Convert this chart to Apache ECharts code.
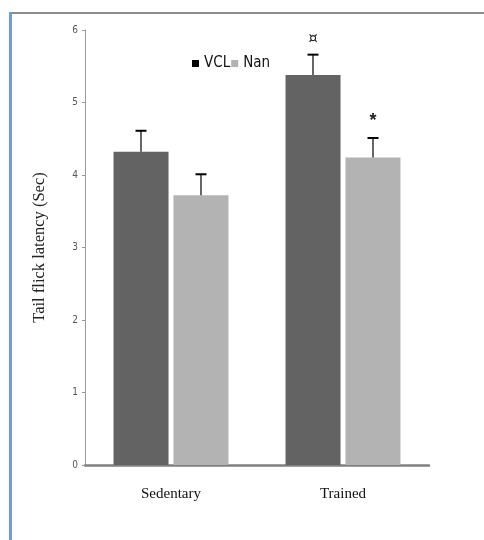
<!DOCTYPE html>
<html><head><meta charset="utf-8">
<script src="https://cdn.jsdelivr.net/npm/echarts@6/dist/echarts.min.js"></script>
<style>html,body{margin:0;padding:0;background:#fff}#c{width:484px;height:540px}</style>
</head><body><div id="c"></div>
<script>
const categories = ['Sedentary', 'Trained'];
const vclValues = [4.32, 5.38];
const vclErrors = [0.29, 0.28];
const nanValues = [3.72, 4.24];
const nanErrors = [0.29, 0.27];
const vclMarks = ['', '¤'];
const nanMarks = ['', '*'];
const yTicks = [0, 1, 2, 3, 4, 5, 6];

const chart = echarts.init(document.getElementById('c'));

function errSeries(name, values, errors, marks, idx) {
  return {
    type: 'custom', name: name + ' err', silent: true, z: 5,
    data: values.map((v, i) => [i, v, v + errors[i]]),
    renderItem: function (params, api) {
      const i = api.value(0);
      const base = api.coord([i, api.value(1)]);
      const top = api.coord([i, api.value(2)]);
      const barW = 55, gap = 5;
      const off = idx === 0 ? -(barW + gap) / 2 : (barW + gap) / 2;
      const x = base[0] + off;
      const children = [
        { type: 'line', shape: { x1: x, y1: base[1], x2: x, y2: top[1] }, style: { stroke: '#000', lineWidth: 1.2 } },
        { type: 'line', shape: { x1: x - 5.5, y1: top[1], x2: x + 5.5, y2: top[1] }, style: { stroke: '#000', lineWidth: 2 } }
      ];
      const m = marks[params.dataIndex];
      if (m) {
        children.push({ type: 'text', style: { text: m, x: x, y: top[1] - 8, align: 'center', verticalAlign: 'bottom',
          font: m === '*' ? 'bold 18px "Liberation Sans", sans-serif' : '16px "DejaVu Sans Condensed", "DejaVu Sans", sans-serif', fill: '#222' } });
      }
      return { type: 'group', children: children };
    }
  };
}

chart.setOption({
  animation: false,
  backgroundColor: '#fff',
  graphic: [
    { type: 'line', shape: { x1: 9, y1: 13, x2: 484, y2: 13 }, style: { stroke: '#8c8c8c', lineWidth: 2 } },
    { type: 'line', shape: { x1: 10.5, y1: 12, x2: 10.5, y2: 540 }, style: { stroke: '#6f9cd3', lineWidth: 3 } }
  ],
  legend: {
    left: 187, top: 51, itemGap: 1, itemWidth: 7, itemHeight: 7, icon: 'rect',
    textStyle: { fontFamily: '"DejaVu Sans Condensed", "Liberation Sans Narrow", sans-serif', fontSize: 15, color: '#111' },
    data: [{ name: 'VCL', itemStyle: { color: '#000' } }, { name: 'Nan', itemStyle: { color: '#b3b3b3' } }]
  },
  grid: { left: 85, top: 30, width: 344, height: 435 },
  xAxis: {
    type: 'category', data: categories,
    axisLine: { lineStyle: { color: '#808080', width: 2.5 } },
    axisTick: { show: false },
    axisLabel: { margin: 22, fontFamily: '"Liberation Serif", "Times New Roman", serif', fontSize: 15, color: '#111' }
  },
  yAxis: {
    type: 'value', min: 0, max: 6, interval: 1,
    name: 'Tail flick latency (Sec)', nameLocation: 'middle', nameGap: 37,
    nameTextStyle: { fontFamily: '"Liberation Serif", "Times New Roman", serif', fontSize: 16.5, color: '#222' },
    axisLine: { show: true, lineStyle: { color: '#999', width: 1 } },
    axisTick: { show: true, length: 3, lineStyle: { color: '#999' } },
    splitLine: { show: false },
    axisLabel: { margin: 7, fontFamily: '"DejaVu Sans Condensed", sans-serif', fontSize: 10, color: '#555',
      formatter: v => yTicks.includes(v) ? String(v) : '' }
  },
  series: [
    { name: 'VCL', type: 'bar', data: vclValues, barWidth: 55, barGap: '9%', itemStyle: { color: '#636363' } },
    { name: 'Nan', type: 'bar', data: nanValues, barWidth: 55, itemStyle: { color: '#b3b3b3' } },
    errSeries('VCL', vclValues, vclErrors, vclMarks, 0),
    errSeries('Nan', nanValues, nanErrors, nanMarks, 1)
  ]
});
</script></body></html>
